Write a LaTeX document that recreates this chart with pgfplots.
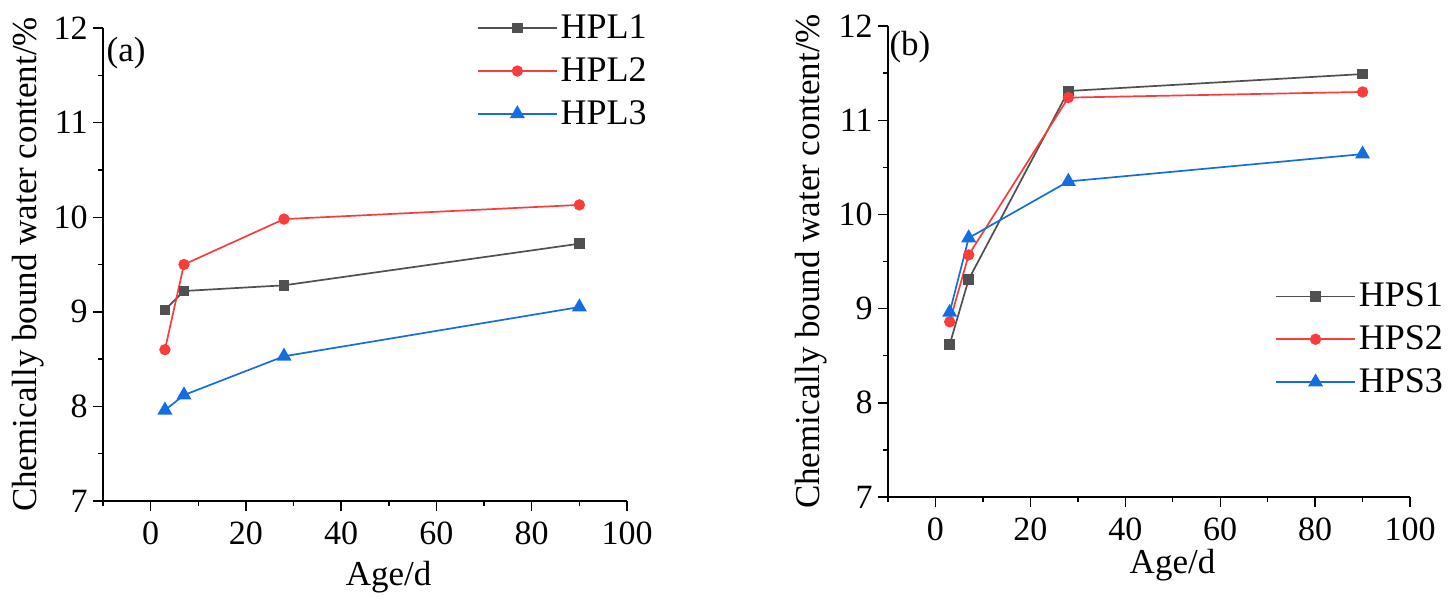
\documentclass[border=0pt]{standalone}
\usepackage{fontspec}
\setmainfont{Liberation Serif}
\usepackage{pgfplots}
\pgfplotsset{compat=1.18}
\definecolor{cgray}{RGB}{80,80,80}
\definecolor{cred}{RGB}{250,60,60}
\definecolor{cblue}{RGB}{20,110,225}
\pgfplotsset{myaxis/.style={
  scale only axis,
  axis x line*=bottom, axis y line*=left,
  axis line style={line width=0.7pt,-},
  xmin=-10,xmax=100,ymin=7,ymax=12,
  xtick={0,20,...,100}, ytick={7,...,12},
  minor xtick={-10,10,30,50,70,90}, minor ytick={7.5,8.5,9.5,10.5,11.5},
  tick align=outside, major tick length=5pt, minor tick length=2.5pt,
  tick style={line width=0.7pt,black},
  /pgf/number format/assume math mode=true,
  tick label style={font=\fontsize{17}{20}\selectfont},
  yticklabel style={inner sep=2.5pt},
  xticklabel style={yshift=-2pt},
  label style={font=\fontsize{17.5}{20}\selectfont},
  every axis plot/.append style={line width=0.85pt},
  legend cell align=left,
  legend style={draw=none, fill=none, font=\fontsize{18}{20}\selectfont,
    row sep=5pt, inner sep=0pt, nodes={inner sep=1.5pt}},
  legend image code/.code={\draw[mark repeat=2,mark phase=2] plot coordinates {(0pt,0pt) (19.75pt,0pt) (39.5pt,0pt)};},
}}
\begin{document}
\begin{tikzpicture}
\useasboundingbox (0,0) rectangle (727pt,303pt);
\begin{axis}[myaxis, at={(51.5pt,52.5pt)}, anchor=south west,
  width=262pt, height=236.5pt,
  xlabel={Age/d}, ylabel={Chemically bound water content/\%},
  xlabel style={at={(axis description cs:0.545,-0.16)}, anchor=center},
  ylabel style={at={(axis description cs:-0.143,0.5)}, anchor=center},
  legend style={at={(axis description cs:0.713,1.035)}, anchor=north west}]
\addplot[color=cgray, mark=square*, mark size=2.2pt] coordinates {(3,9.02) (7,9.22) (28,9.28) (90,9.72)};
\addlegendentry{HPL1}
\addplot[color=cred, mark=*, mark size=2.4pt] coordinates {(3,8.60) (7,9.50) (28,9.98) (90,10.13)};
\addlegendentry{HPL2}
\addplot[color=cblue, mark=triangle*, mark size=3.5pt] coordinates {(3,7.96) (7,8.12) (28,8.53) (90,9.05)};
\addlegendentry{HPL3}
\node[font=\fontsize{17.5}{20}\selectfont, anchor=center] at (axis description cs:0.044,0.947) {(a)};
\end{axis}
\begin{axis}[myaxis, at={(444pt,54.5pt)}, anchor=south west,
  width=261pt, height=235.5pt,
  xlabel={Age/d}, ylabel={Chemically bound water content/\%},
  xlabel style={at={(axis description cs:0.545,-0.145)}, anchor=center},
  ylabel style={at={(axis description cs:-0.147,0.5)}, anchor=center},
  legend style={at={(axis description cs:0.741,0.4615)}, anchor=north west}]
\addplot[color=cgray, mark=square*, mark size=2.2pt] coordinates {(3,8.62) (7,9.31) (28,11.31) (90,11.49)};
\addlegendentry{HPS1}
\addplot[color=cred, mark=*, mark size=2.4pt] coordinates {(3,8.86) (7,9.57) (28,11.24) (90,11.30)};
\addlegendentry{HPS2}
\addplot[color=cblue, mark=triangle*, mark size=3.5pt] coordinates {(3,8.96) (7,9.75) (28,10.35) (90,10.64)};
\addlegendentry{HPS3}
\node[font=\fontsize{17.5}{20}\selectfont, anchor=center] at (axis description cs:0.042,0.955) {(b)};
\end{axis}
\end{tikzpicture}
\end{document}
